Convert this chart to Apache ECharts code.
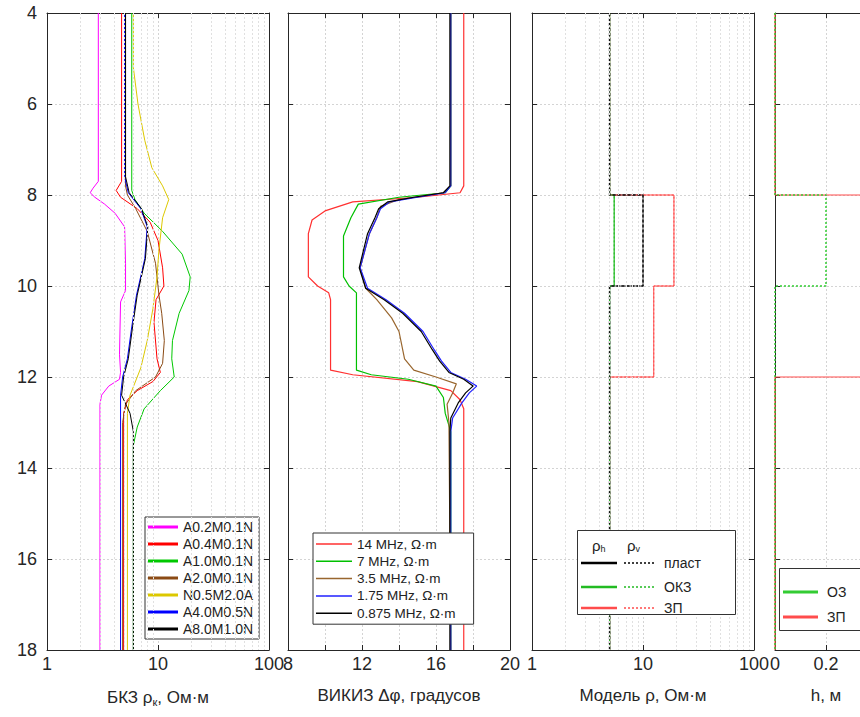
<!DOCTYPE html>
<html><head><meta charset="utf-8">
<script src="https://cdn.jsdelivr.net/npm/echarts@6/dist/echarts.min.js"></script>
<style>html,body{margin:0;padding:0;background:#fff}#c{width:860px;height:717px}</style>
</head><body><div id="c"></div>
<script>
// ---------- depth axis ----------
const depthTicks = [4, 6, 8, 10, 12, 14, 16, 18];

// ---------- panel 1: БКЗ apparent resistivity (Ом·м) ----------
const bkzNames = ['A0.2M0.1N','A0.4M0.1N','A1.0M0.1N','A2.0M0.1N','N0.5M2.0A','A4.0M0.5N','A8.0M1.0N'];
const bkzColors = ['#ff00ff','#ff0000','#00c800','#8b4a14','#dcc800','#0000ff','#000000'];
const bkz1Depth = [4,7.7,7.85,7.95,8.05,8.2,8.4,8.7,9.5,10.1,10.35,11.5,11.9,12.05,12.2,12.4,12.6,18];
const bkz1Val   = [2.9,2.9,2.6,2.45,2.7,3.3,4.1,5.0,5.1,5.1,4.6,4.5,4.6,4.5,3.6,3.1,3.0,3.0];
const bkz2Depth = [4,7.7,7.9,8.05,8.3,8.6,9.0,9.6,10.0,10.3,10.8,11.6,11.9,12.1,12.3,12.5,12.8,18];
const bkz2Val   = [4.7,4.7,4.2,4.6,6.5,8.5,10.0,11.0,11.3,9.6,9.2,9.8,10.5,9.0,6.5,5.3,4.9,4.9];
const bkz3Depth = [4,7.9,8.1,8.4,8.8,9.3,9.8,10.1,10.6,11.2,11.6,12.0,12.3,12.7,13.1,13.5,18];
const bkz3Val   = [5.8,5.8,6.2,7.5,11,16.5,19.5,19,15.5,13.5,13.3,14.0,10.5,7.5,6.5,6.0,6.0];
const bkz4Depth = [4,7.8,8.0,8.3,8.8,9.5,10.2,10.6,11.2,11.7,12.0,12.3,12.6,13,18];
const bkz4Val   = [5.1,5.1,5.3,6.3,8.0,9.5,10.2,10.8,11.4,11.0,9.5,6.3,5.1,4.8,4.8];
const bkz5Depth = [4,5.2,6.0,6.8,7.4,7.8,8.1,8.5,9.2,9.8,10.5,11.2,11.8,12.4,12.8,18];
const bkz5Val   = [6.0,6.0,6.6,7.6,8.8,11.0,12.5,11.0,10.2,9.8,9.0,8.0,7.0,5.6,5.3,5.3];
const bkz6Depth = [4,7.6,7.95,8.3,8.7,9.4,10.2,10.9,11.6,12.0,12.4,18];
const bkz6Val   = [5.0,5.0,5.4,7.0,8.0,7.6,6.4,5.8,5.3,4.8,4.6,4.6];
const bkz7Depth = [4,7.6,7.95,8.3,8.7,9.4,10.2,10.9,11.6,12.0,12.4,12.8,13.2,18];
const bkz7Val   = [5.1,5.1,5.5,7.1,8.1,7.7,6.5,5.9,5.4,4.9,4.7,5.6,6.0,6.0];
const bkzDepths = [bkz1Depth,bkz2Depth,bkz3Depth,bkz4Depth,bkz5Depth,bkz6Depth,bkz7Depth];
const bkzVals   = [bkz1Val,bkz2Val,bkz3Val,bkz4Val,bkz5Val,bkz6Val,bkz7Val];
const logMinorTicks = [2,3,4,5,6,7,8,9,20,30,40,50,60,70,80,90];

// ---------- panel 2: ВИКИЗ phase difference (градусов) ----------
const vikizNames = ['14 MHz, Ω·m','7 MHz, Ω·m','3.5 MHz, Ω·m','1.75 MHz, Ω·m','0.875 MHz, Ω·m'];
const vikizColors = ['#ff3030','#00c000','#99662e','#2020ff','#000000'];
const vik1Depth = [4,7.8,7.95,8.05,8.15,8.35,8.55,8.85,9.8,10.0,10.15,10.3,11.85,11.95,12.1,12.3,12.5,12.7,18];
const vik1Val   = [17.5,17.5,17.3,15.0,11.5,10.0,9.3,9.1,9.1,9.6,10.2,10.3,10.3,11.5,15.0,16.8,17.3,17.5,17.5];
const vik2Depth = [4,7.8,7.95,8.05,8.2,8.5,8.9,9.8,10.0,10.15,11.85,11.95,12.05,12.2,12.45,12.8,13.2,18];
const vik2Val   = [16.8,16.8,16.5,14.0,11.8,11.4,11.0,11.0,11.3,11.7,11.7,12.5,14.5,16.0,16.4,16.5,16.8,16.8];
const vik3Depth = [4,7.8,7.95,8.1,8.25,8.5,8.85,9.6,10.05,10.3,10.7,11.0,11.6,11.85,12.0,12.15,12.35,12.6,13.0,18];
const vik3Val   = [16.8,16.8,16.4,14.0,13.0,12.8,12.4,11.9,12.2,12.8,13.6,14.0,14.3,14.8,16.0,17.1,16.9,16.6,16.7,16.8];
const vik4Depth = [4,7.8,7.95,8.05,8.15,8.3,8.5,8.85,9.6,10.05,10.3,10.6,11.0,11.4,11.65,11.9,12.05,12.2,12.35,12.57,12.9,13.2,18];
const vik4Val   = [16.8,16.8,16.5,15.0,13.5,13.0,12.8,12.4,11.9,12.3,13.3,14.3,15.3,15.9,16.3,16.8,17.6,18.2,17.8,17.4,16.9,16.8,16.8];
const vik5Depth = [4,7.8,7.95,8.05,8.15,8.3,8.5,8.85,9.6,10.05,10.3,10.6,11.0,11.4,11.65,11.9,12.05,12.2,12.35,12.57,12.9,13.2,18];
const vik5Val   = [16.75,16.75,16.4,14.8,13.4,12.9,12.7,12.3,11.85,12.2,13.2,14.2,15.2,15.8,16.2,16.7,17.5,18.0,17.6,17.2,16.8,16.75,16.75];
const vikDepths = [vik1Depth,vik2Depth,vik3Depth,vik4Depth,vik5Depth];
const vikVals   = [vik1Val,vik2Val,vik3Val,vik4Val,vik5Val];
const vikizTickLabels = [8, 12, 16, 20];

// ---------- panel 3: model resistivity by layer ----------
const layerTops    = [4, 8, 10, 12];
const layerBottoms = [8, 10, 12, 18];
const plastRho = [5, 10, 5, 5];
const okzRho   = [5, 5.5, 5, 5];
const zpRho    = [5, 19, 12.5, 5];

// ---------- panel 4: zone radius h (м) ----------
const ozRadius = [0, 0.2, 0, 0];
const zpRadius = [0, 0.5, 0.5, 0];
const hTickLabels = [0, 0.2];

// ---------- helpers ----------
const FONT = "'Liberation Sans', Arial, sans-serif";
const AX = '#262626';
function pairs(depths, vals){ return depths.map((d,i)=>[vals[i], d]); }
function steps(vals){ const out=[]; vals.forEach((v,i)=>{ out.push([v, layerTops[i]]); out.push([v, layerBottoms[i]]); }); return out; }

const grids = [
  {left:47,  top:13, width:222, height:637, outerBoundsMode:'none'},
  {left:288, top:13, width:222, height:637, outerBoundsMode:'none'},
  {left:532, top:13, width:222, height:637, outerBoundsMode:'none'},
  {left:775, top:13, width:102, height:637, outerBoundsMode:'none'}
];
const xDefs = [
  {type:'log', min:1, max:100, logBase:10, name:'БКЗ ρ{s|к}, Ом·м'},
  {type:'value', min:8, max:20, interval:2, name:'ВИКИЗ Δφ, градусов',
   fmt: v => vikizTickLabels.indexOf(v) >= 0 ? String(v) : ''},
  {type:'log', min:1, max:100, logBase:10, name:'Модель ρ, Ом·м'},
  {type:'value', min:0, max:0.4, interval:0.2, name:'h, м',
   fmt: v => hTickLabels.some(t => Math.abs(t - v) < 1e-9) ? String(v) : ''}
];
const gridLine = {show:true, lineStyle:{color:'#d4d4d4', type:[2,2], width:1}};
const xAxes = [], yAxes = [];
xDefs.forEach((d,i)=>{
  const base = {gridIndex:i, type:d.type, min:d.min, max:d.max,
    axisLine:{show:true, onZero:false, lineStyle:{color:AX, width:1}},
    axisTick:{show:true, inside:true, length:5, lineStyle:{color:AX}}};
  if (d.logBase) base.logBase = d.logBase;
  if (d.interval) base.interval = d.interval;
  xAxes.push(Object.assign({}, base, {
    position:'bottom', splitLine:gridLine,
    axisLabel:{show:true, fontSize:18, color:AX, fontFamily:FONT, margin:5,
      showMinLabel:true, showMaxLabel:true, formatter: d.fmt || (v => String(v))},
    name:d.name, nameLocation:'middle', nameGap:37,
    nameTextStyle:{fontSize:17, color:AX, fontFamily:FONT,
      rich:{s:{fontSize:11, color:AX, fontFamily:FONT, padding:[9,0,0,0]}}}
  }));
  xAxes.push(Object.assign({}, base, {position:'top', splitLine:{show:false}, axisLabel:{show:false}}));
  const ybase = {gridIndex:i, type:'value', inverse:true, min:depthTicks[0], max:depthTicks[depthTicks.length-1], interval:2,
    axisLine:{show:true, onZero:false, lineStyle:{color:AX, width:1}},
    axisTick:{show:true, inside:true, length:5, lineStyle:{color:AX}}};
  yAxes.push(Object.assign({}, ybase, {position:'left', splitLine:gridLine,
    axisLabel:{show:i===0, fontSize:18, color:AX, fontFamily:FONT, margin:10}}));
  yAxes.push(Object.assign({}, ybase, {position:'right', splitLine:{show:false}, axisLabel:{show:false}}));
});

const series = [];
function line(name, gi, data, color, width, type, z){
  series.push({name, type:'line', xAxisIndex:2*gi, yAxisIndex:2*gi, data,
    showSymbol:false, symbol:'none', animation:false, clip:true, z: z || 2,
    lineStyle:{color, width, type: type || 'solid'}, itemStyle:{color}});
}
// minor log gridlines (panels 1 and 3)
[0,2].forEach(gi=>{
  series.push({name:'minor'+gi, type:'line', xAxisIndex:2*gi, yAxisIndex:2*gi, data:[], silent:true,
    markLine:{silent:true, symbol:['none','none'], label:{show:false}, animation:false,
      lineStyle:{color:'#e0e0e0', type:[2,2], width:1},
      data: logMinorTicks.map(v=>({xAxis:v}))}});
});
bkzNames.forEach((n,k)=> line(n, 0, pairs(bkzDepths[k], bkzVals[k]), bkzColors[k], 1));
vikizNames.forEach((n,k)=> line(n, 1, pairs(vikDepths[k], vikVals[k]), vikizColors[k], 1.2));
line('ЗП ρh', 2, steps(zpRho), '#ff4c4c', 1);
line('ОКЗ ρh', 2, steps(okzRho), '#22bb22', 1.2);
line('пласт ρh', 2, steps(plastRho), '#555555', 1);
line('ЗП ρv', 2, steps(zpRho), '#ff4c4c', 1, [2,2], 3);
line('ОКЗ ρv', 2, steps(okzRho), '#22bb22', 1, [2,2], 3);
line('пласт ρv', 2, steps(plastRho), '#111111', 1.5, [3,2], 4);
line('ЗП h', 3, steps(zpRadius), '#ff4c4c', 1.2);
line('ОЗ h', 3, steps(ozRadius), '#33cc33', 1.5, [2,2], 3);

const legends = [
  {data:bkzNames, orient:'vertical', left:145, top:517, icon:'rect', itemWidth:30, itemHeight:3, itemGap:3,
   itemTextGap:4, padding:[3,6,3,3], borderColor:'#333', borderWidth:1, backgroundColor:'#fff', borderRadius:0,
   textStyle:{fontSize:14, lineHeight:13.5, color:'#222', fontFamily:FONT}, selectedMode:false},
  {data:vikizNames, orient:'vertical', left:313, top:533, icon:'rect', itemWidth:36, itemHeight:1.5, itemGap:3.3,
   itemTextGap:6, padding:[4,18,4,3], borderColor:'#333', borderWidth:1, backgroundColor:'#fff', borderRadius:0,
   textStyle:{fontSize:13.5, lineHeight:12.5, color:'#222', fontFamily:FONT}, selectedMode:false}
];

const T = (x,y,text,size,extra) => Object.assign({type:'text', x, y, z:100,
  style:{text, fontSize:size||14, fill:'#222', fontFamily:FONT, verticalAlign:'middle'}}, extra||{});
const L = (x1,y1,x2,y2,color,w,dash) => ({type:'line', z:100,
  shape:{x1,y1,x2,y2}, style:{stroke:color, lineWidth:w, lineDash:dash||null}});
const graphic = [
  {type:'rect', z:99, shape:{x:577.5, y:530.5, width:158, height:84}, style:{fill:'#fff', stroke:'#333', lineWidth:1}},
  {type:'text', x:592, y:545, z:100, style:{text:'{a|ρ}{b|h}', fontFamily:FONT, verticalAlign:'middle',
    rich:{a:{fontSize:15, fill:'#222', fontFamily:FONT}, b:{fontSize:9, fill:'#222', fontFamily:FONT, padding:[8,0,0,0]}}}},
  {type:'text', x:627, y:545, z:100, style:{text:'{a|ρ}{b|v}', fontFamily:FONT, verticalAlign:'middle',
    rich:{a:{fontSize:15, fill:'#222', fontFamily:FONT}, b:{fontSize:9, fill:'#222', fontFamily:FONT, padding:[8,0,0,0]}}}},
  L(581,563,617,563,'#000',2.5), L(624,563,656,563,'#000',1.5,[2,2]), T(664,563,'пласт',14),
  L(581,587,617,587,'#22bb22',2.5), L(624,587,656,587,'#22bb22',1.5,[2,2]), T(664,587,'ОКЗ',14),
  L(581,608,617,608,'#ff4c4c',2.5), L(624,608,656,608,'#ff4c4c',1.5,[2,2]), T(664,608,'ЗП',14),
  {type:'rect', z:99, shape:{x:779.5, y:568.5, width:100, height:62}, style:{fill:'#fff', stroke:'#333', lineWidth:1}},
  L(783,592,818,592,'#33cc33',3), T(827,592,'ОЗ',14),
  L(783,617,818,617,'#ff4c4c',3), T(827,617,'ЗП',14)
];

const chart = echarts.init(document.getElementById('c'), null, {renderer:'svg'});
chart.setOption({
  animation:false, backgroundColor:'#fff',
  grid:grids, xAxis:xAxes, yAxis:yAxes, series, legend:legends, graphic
});
</script>
</body></html>
